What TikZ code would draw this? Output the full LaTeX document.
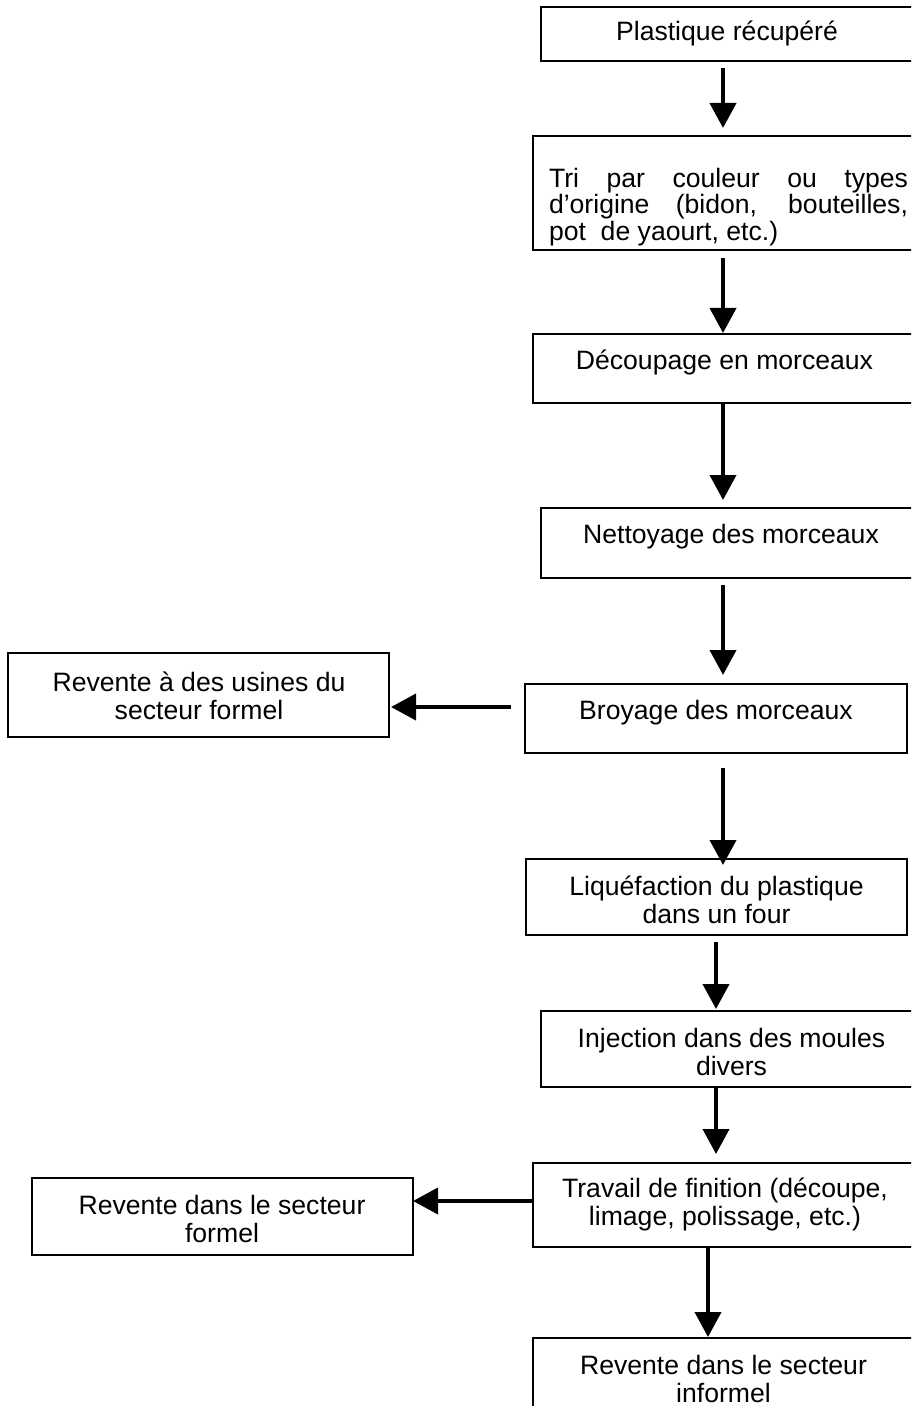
\documentclass[tikz,border=0pt]{standalone}
\usepackage{fontspec}
\setmainfont{Liberation Sans}
\usetikzlibrary{arrows.meta,fit}
\begin{document}
\begin{tikzpicture}[x=0.5pt,y=-0.5pt,
  box/.style={draw, line width=1pt, inner sep=0pt, outer sep=0pt},
  txt/.style={inner sep=0pt, align=center, font=\fontsize{13.3}{14}\selectfont},
  arr/.style={line width=2pt, -{Triangle[width=13pt,length=12.5pt]}}]
\clip (0,0) rectangle (911,1406);
% boxes
\node[box, fit={(541,7) (913,61)}] (b1) {};
\node[box, fit={(533,136) (925,250)}] (b2) {};
\node[box, fit={(533,334) (916,403)}] (b3) {};
\node[box, fit={(541,508) (921,578)}] (b4) {};
\node[box, fit={(525,684) (907,753)}] (b5) {};
\node[box, fit={(8,653) (389,737)}] (l1) {};
\node[box, fit={(526,859) (907,935)}] (b6) {};
\node[box, fit={(541,1011) (922,1087)}] (b7) {};
\node[box, fit={(533,1163) (917,1247)}] (b8) {};
\node[box, fit={(32,1178) (413,1255)}] (l2) {};
\node[box, fit={(533,1338) (914,1440)}] (b9) {};
% texts
\node[txt] (t1) at (727,33) {Plastique récupéré};
\node[txt, text width=179.5pt, align=justify, font=\fontsize{13.3}{13.3}\selectfont] (t2) at (728.5,207)
  {Tri par couleur ou types\linebreak d’origine (bidon, bouteilles,\linebreak pot\ \ de yaourt, etc.)};
\node[txt] (t3) at (724.5,362) {Découpage en morceaux};
\node[txt] (t4) at (731,537) {Nettoyage des morceaux};
\node[txt] (t5) at (716,713) {Broyage des morceaux};
\node[txt] (tl1) at (199,696) {Revente à des usines du\\secteur formel};
\node[txt] (t6) at (716.5,900) {Liquéfaction du plastique\\dans un four};
\node[txt] (t7) at (731.5,1052) {Injection dans des moules\\divers};
\node[txt] (t8) at (725,1204) {Travail de finition (découpe,\\limage, polissage, etc.)};
\node[txt] (tl2) at (222,1219) {Revente dans le secteur\\formel};
\node[txt] (t9) at (723.5,1379) {Revente dans le secteur\\informel};
% helper coordinates
\coordinate (xa) at (723,0);
\coordinate (xb) at (716,0);
\coordinate (xc) at (708,0);
\coordinate (ya) at (0,707);
\coordinate (yb) at (0,1201);
% connectors
\draw[arr, shorten <=3.5pt, shorten >=4pt] (b1.south -| xa) -- (b2.north -| xa);
\draw[arr, shorten <=4pt, shorten >=0.5pt] (b2.south -| xa) -- (b3.north -| xa);
\draw[arr, shorten >=4pt] (b3.south -| xa) -- (b4.north -| xa);
\draw[arr, shorten <=3.5pt, shorten >=4.5pt] (b4.south -| xa) -- (b5.north -| xa);
\draw[arr, shorten <=7.5pt, shorten >=-3pt] (b5.south -| xa) -- (b6.north -| xa);
\draw[arr, shorten <=3.5pt, shorten >=1pt] (b6.south -| xb) -- (b7.north -| xb);
\draw[arr, shorten >=4.5pt] (b7.south -| xb) -- (b8.north -| xb);
\draw[arr, shorten >=0.5pt] (b8.south -| xc) -- (b9.north -| xc);
\draw[arr, shorten <=7pt, shorten >=1pt] (b5.west |- ya) -- (l1.east |- ya);
\draw[arr] (b8.west |- yb) -- (l2.east |- yb);
\end{tikzpicture}
\end{document}
